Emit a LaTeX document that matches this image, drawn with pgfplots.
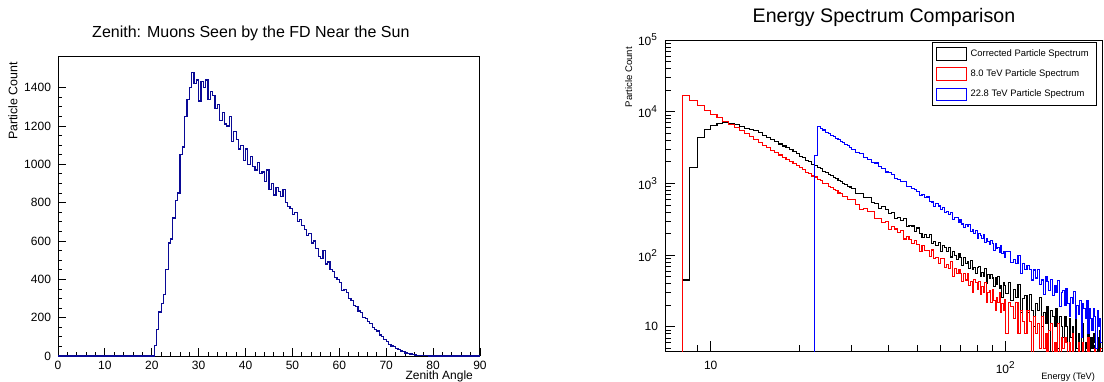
\documentclass[border=0pt]{standalone}
\usepackage{fontspec}
\setmainfont{Liberation Sans}
\usepackage{pgfplots}
\usepackage{pgfplotstable}
\pgfplotsset{compat=1.18}
\definecolor{zen}{RGB}{10,10,150}

\pgfplotstableread{
x y
0 0
20 0
20.5 55
21 140
21.5 230
22 275
22.5 320
23 450
23.5 590
24 610
24.5 720
25 810
25.5 850
26 1050
26.5 1090
27 1250
27.5 1340
28 1400
28.5 1480
29 1420
29.5 1440
30 1330
30.5 1430
31 1400
31.5 1440
32 1340
32.5 1380
33 1360
33.5 1290
34 1310
34.5 1230
35 1270
35.5 1210
36 1200
36.5 1250
37 1120
37.5 1170
38 1130
38.5 1080
39 1100
39.5 1020
40 1080
40.5 1000
41 1040
41.5 990
42 970
42.5 1010
43 950
43.5 960
44 910
44.5 970
45 870
45.5 900
46 840
46.5 880
47 860
47.5 830
48 870
48.5 800
49 780
49.5 770
50 740
50.5 750
51 700
51.5 710
52 680
52.5 660
53 630
53.5 640
54 590
54.5 600
55 560
55.5 520
56 510
56.5 550
57 480
57.5 490
58 450
58.5 440
59 410
59.5 400
60 385
60.5 340
61 345
61.5 330
62 300
62.5 290
63 265
63.5 260
64 235
64.5 225
65 200
65.5 195
66 180
66.5 170
67 150
67.5 140
68 130
68.5 110
69 100
69.5 85
70 75
70.5 62
71 52
71.5 48
72 38
72.5 32
73 26
73.5 22
74 16
74.5 13
75 10
75.5 7
76 5
76.5 4
77 3
77.5 2
78 1
78.5 1
79 0
90 0
}\zenith

\pgfplotstableread{
E black red blue
7.0 1 1 1
7.5 1 1 1
8.0 45 16700 1
8.5 1670 14500 1
9.0 4330 12300 1
9.5 5700 10400 1
10.0 6340 9200 1
10.5 6870 8250 1
11.0 7000 7400 1
11.5 6870 6650 1
12.0 6650 6000 1
12.5 6300 5420 1
13.0 5900 4920 1
13.5 5660 4470 1
14.0 5450 4077 1
14.5 5075 3730 1
15.0 4725 3422 1
15.5 4400 3150 1
16.0 4095 2905 1
16.5 3815 2687 1
17.0 3550 2490 1
17.5 3330 2313 1
18.0 3125 2153 1
18.5 2930 2009 1
19.0 2750 1877 1
19.5 2580 1757 1
20.0 2400 1651 1
20.5 2270 1560 1
21.0 2090 1430 1
21.5 2010 1385 1
22.0 1860 1270 1
22.5 1790 1230 2480
23.0 1650 1120 6160
23.5 1600 1100 5790
24.0 1480 1010 5560
24.5 1440 985 5180
25.0 1330 900 4990
25.5 1300 885 4650
26.0 1200 815 4500
26.5 1180 800 4190
27.0 1090 735 4080
27.5 1070 725 3810
28.0 990 665 3700
28.5 975 660 3460
29.0 905 605 3380
29.5 890 600 3150
30 840 590 3014
31 731 504 2678
32 730 439 2599
33 643 447 2329
34 640 401 2182
35 536 404 1944
36 520 323 1924
37 446 323 1697
38 473 284 1610
39 430 292 1445
40 380 226 1417
41 393 254 1347
42 327 231 1188
43 338 204 1146
44 301 219 1059
45 321 168 1065
46 249 184 902
47 262 164 912
48 255 146 838
49 216 161 824
50 239 142 762
51 201 113 680
52 176 137 698
53 195 115 632
54 178 117 646
55 192 96 556
56 147 118 550
57 156 90 483
58 138 93 522
59 152 76 484
60 112 90 437
61 138 91 457
62 127 68 391
63 112 73 407
64 129 66 372
65 94 81 397
66 111 51 318
67 99 65 335
68 88 56 330
69 104 63 287
70 92 56 314
71 71 43 272
72 92 55 243
73 77 45 268
74 81 56 248
75 65 38 266
76 85 43 212
77 64 30 224
78 68 46 203
79 55 41 219
80 68 33 171
81 70 43 203
82 51 28 189
83 57 36 171
84 51 30 192
85 66 41 149
86 40 22 169
87 54 30 154
88 47 32 140
89 53 22 159
90 48 33 144
91 36 23 117
92 48 17 144
93 39 26 124
94 50 22 129
95 34 30 109
96 38 16 134
97 26 21 106
98 42 17 111
99 38 24 94
100 29 8 112
102 41 22 112
104 23 19 80
106 33 13 87
108 26 22 76
110 39 8 98
112 16 17 56
114 25 12 76
116 27 8 63
118 16 17 72
120 28 12 63
122 17 4 45
124 10 14 62
126 21 8 48
128 17 11 63
130 26 5 39
132 10 14 45
134 16 5 28
136 11 8 50
138 19 3 43
140 4 9 32
142 17 11 46
144 14 3 27
146 10 6 38
148 18 4 30
150 5 11 44
152 14 1 19
154 10 7 30
156 7 5 32
158 14 7 20
160 10 6 34
162 3 1 21
164 13 6 14
166 7 4 26
168 10 8 21
170 4 2 31
172 14 4 13
174 5 0.5 20
176 8 6 15
178 3 4 23
180 9 2 7
182 11 6 21
184 3 1 18
186 6 4 13
188 5 3 23
190 12 7 8
192 1 0.5 18
194 7 3 13
196 5 4 9
198 8 1 18
200 6 5 14
202 1 2 5
204 7 0.5 17
206 4 3 10
208 9 2 13
210 2 5 6
212 2 5 6
}\spec

\begin{document}
\begin{tikzpicture}
\useasboundingbox (0pt,0pt) rectangle (552pt,190.5pt);
% ---------------- left: zenith ----------------
\begin{axis}[
  at={(29pt,12.5pt)}, anchor=south west,
  scale only axis, width=211pt, height=150pt,
  xmin=0, xmax=90, ymin=0, ymax=1565,
  xtick={0,10,...,90}, minor x tick num=4,
  ytick={0,200,...,1400}, minor y tick num=3,
  tick align=inside, xtick pos=left, ytick pos=left,
  major tick length=4pt, minor tick length=2pt,
  tick style={black, line width=0.4pt},
  axis line style={line width=0.5pt},
  scaled y ticks=false,
  /pgf/number format/assume math mode=true,
  /pgf/number format/1000 sep={},
  tick label style={font=\fontsize{6}{7}\selectfont},
  xticklabel style={yshift=1pt},
  every axis title shift=0pt,
  title={Zenith: Muons Seen by the FD Near the Sun},
  title style={at={(axis description cs:0.457,1.063)}, anchor=base, font=\fontsize{8}{9.6}\selectfont},
  xlabel={Zenith Angle},
  xlabel style={at={(axis description cs:1,-0.0787)}, anchor=base east, font=\fontsize{6}{7}\selectfont},
  ylabel={Particle Count},
  ylabel style={at={(axis description cs:-0.0964,1.0033)}, anchor=base east, font=\fontsize{6.2}{7}\selectfont},
  const plot mark left,
]
\addplot[zen, line width=0.6pt] table[x=x, y=y] {\zenith};
\end{axis}
% ---------------- right: energy spectrum ----------------
\begin{axis}[
  at={(332.5pt,15pt)}, anchor=south west,
  scale only axis, width=218.5pt, height=155.5pt,
  xmode=log, ymode=log,
  xmin=7, xmax=212, ymin=4.6, ymax=100000,
  xtick={10,100}, xticklabels={10,10\textsuperscript{2}},
  minor xtick={7,8,9,20,30,40,50,60,70,80,90,200},
  ytick={10,100,1000,10000,100000},
  yticklabels={10,10\textsuperscript{2},10\textsuperscript{3},10\textsuperscript{4},10\textsuperscript{5}},
  minor ytick={5,6,7,8,9,20,30,40,50,60,70,80,90,200,300,400,500,600,700,800,900,2000,3000,4000,5000,6000,7000,8000,9000,20000,30000,40000,50000,60000,70000,80000,90000},
  tick align=inside, xtick pos=left, ytick pos=left,
  major tick length=5pt, minor tick length=3pt,
  tick style={black, line width=0.4pt},
  axis line style={line width=0.5pt},
  tick label style={font=\fontsize{6}{7}\selectfont},
  xticklabel style={yshift=-1.5pt},
  every axis title shift=0pt,
  title={Energy Spectrum Comparison},
  title style={at={(axis description cs:0.501,1.057)}, anchor=base, font=\fontsize{9.8}{11}\selectfont},
  xlabel={Energy (TeV)},
  xlabel style={at={(axis description cs:1,-0.093)}, anchor=base east, font=\fontsize{4.6}{5.5}\selectfont},
  ylabel={Particle Count},
  ylabel style={at={(axis description cs:-0.0755,1)}, anchor=base east, font=\fontsize{4.8}{5.5}\selectfont},
  const plot mark left,
  legend cell align=left,
  legend style={at={(axis description cs:0.989,0.9926)}, anchor=north east,
    draw=black, line width=0.5pt, fill=white,
    font=\fontsize{4.7}{5.6}\selectfont,
    inner xsep=2pt, inner ysep=1.2pt, row sep=1.2pt},
  legend image code/.code={\draw[#1, line width=0.5pt, fill=none] (0pt,-3.2pt) rectangle (14.6pt,3.2pt);},
]
\addplot[black, line width=0.55pt] table[x=E, y=black] {\spec};
\addlegendentry{Corrected Particle Spectrum}
\addplot[red, line width=0.55pt] table[x=E, y=red] {\spec};
\addlegendentry{8.0 TeV Particle Spectrum}
\addplot[blue, line width=0.55pt] table[x=E, y=blue] {\spec};
\addlegendentry{22.8 TeV Particle Spectrum}
\end{axis}
\end{tikzpicture}
\end{document}
